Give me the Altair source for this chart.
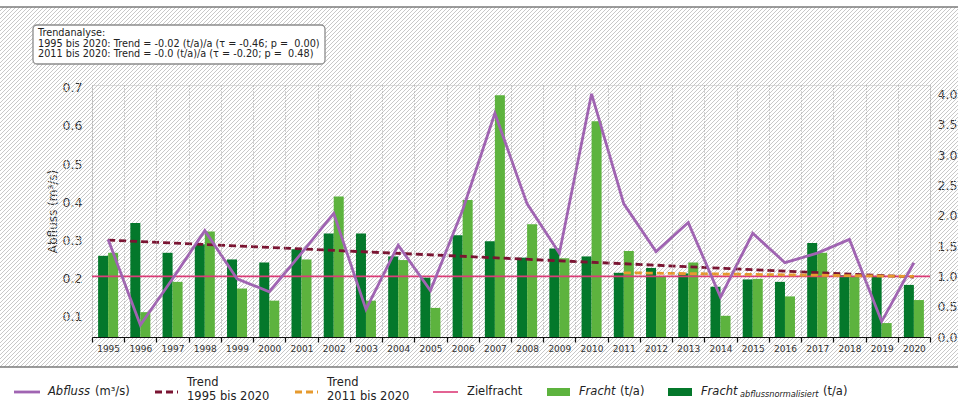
import altair as alt
import pandas as pd

# ---------------- data ----------------
years = list(range(1995, 2021))
fracht = [1.39, 0.41, 0.91, 1.74, 0.80, 0.60, 1.28, 2.32, 0.60, 1.27, 0.48, 2.26, 3.99,
          1.86, 1.30, 3.56, 1.42, 1.00, 1.23, 0.35, 0.96, 0.67, 1.39, 0.995, 0.23, 0.61]
fracht_norm = [1.34, 1.88, 1.39, 1.53, 1.28, 1.23, 1.45, 1.71, 1.71, 1.33, 0.98, 1.68, 1.58,
               1.31, 1.46, 1.33, 1.06, 1.14, 1.05, 0.83, 0.95, 0.91, 1.55, 1.02, 1.00, 0.86]
abfluss = [0.303, 0.079, 0.200, 0.326, 0.200, 0.166, 0.267, 0.371, 0.120, 0.288, 0.169, 0.380, 0.633,
           0.396, 0.267, 0.684, 0.396, 0.271, 0.347, 0.152, 0.319, 0.242, 0.267, 0.303, 0.088, 0.242]
trend1_years = [1995, 2020]
trend1_values = [1.60, 0.99]
trend2_years = [2011, 2020]
trend2_values = [1.06, 1.00]
zielfracht = [1.0]

left_ticks = [0.1, 0.2, 0.3, 0.4, 0.5, 0.6, 0.7]
right_ticks = [0.0, 0.5, 1.0, 1.5, 2.0, 2.5, 3.0, 3.5, 4.0]

annot_lines = [
    "Trendanalyse:",
    "1995 bis 2020: Trend = -0.02 (t/a)/a (\u03c4 = -0.46; p = \u00a00.00)",
    "2011 bis 2020: Trend = -0.0 (t/a)/a (\u03c4 = -0.20; p = \u00a00.48)",
]

# ---------------- style ----------------
C_ABFLUSS = "#a064b2"
C_TREND1 = "#7a1432"
C_TREND2 = "#e69a2e"
C_ZIEL = "#dc3c78"
C_FRACHT = "#5db33e"
C_NORM = "#04782b"
C_HATCH = "#c2c2c2"
FONT = "DejaVu Sans"

W, H = 838, 252        # plot area
L, T = 92, 85          # plot origin in page
TOTAL_W, TOTAL_H = 958, 403
HATCH_TOP, HATCH_BOTTOM = 7, 367

def px(x):
    return alt.value(x - L)

def py(y):
    return alt.value(y - T)

one = pd.DataFrame({"d": [0]})

# ---------------- decorative hatch ("///") of the figure background ----------------
hx1, hy1, hx2, hy2 = [], [], [], []
c = HATCH_TOP
while c < TOTAL_W + HATCH_BOTTOM:
    xa = max(0, c - HATCH_BOTTOM)
    xb = min(TOTAL_W, c - HATCH_TOP)
    if xa < xb:
        hx1.append(xa - L); hy1.append(c - xa - T)
        hx2.append(xb - L); hy2.append(c - xb - T)
    c += 4
hatch_df = pd.DataFrame({"hx1": hx1, "hy1": hy1, "hx2": hx2, "hy2": hy2})
hatch = alt.Chart(hatch_df).mark_rule(color=C_HATCH, strokeWidth=0.9).encode(
    x=alt.X("hx1:Q", scale=None), y=alt.Y("hy1:Q", scale=None),
    x2="hx2:Q", y2="hy2:Q",
)

# ---------------- data frames ----------------
bars_df = pd.DataFrame({
    "Jahr": years * 2,
    "Serie": ["a_norm"] * len(years) + ["b_fracht"] * len(years),
    "Wert": fracht_norm + fracht,
})
line_df = pd.DataFrame({"Jahr": years, "Abfluss": abfluss})
t1_df = pd.DataFrame({"Jahr": trend1_years, "Wert": trend1_values})
t2_df = pd.DataFrame({"Jahr": trend2_years, "Wert": trend2_values})
z_df = pd.DataFrame({"Wert": zielfracht})

x_enc = alt.X(
    "Jahr:O",
    scale=alt.Scale(type="band", paddingInner=0, paddingOuter=0),
    axis=alt.Axis(
        title=None, labelAngle=0, tickBand="extent", grid=True,
        gridDash=[1, 2], gridColor="#9a9a9a", gridWidth=0.9,
        domainColor="#111", domainWidth=1.2, tickColor="#111", tickSize=5, tickWidth=1.2,
        labelFontSize=9, labelColor="#333", labelPadding=2, labelFont=FONT, zindex=1,
    ),
)

y_right = alt.Y(
    "Wert:Q",
    scale=alt.Scale(domain=[0, 4.16], nice=False, zero=False),
    axis=alt.Axis(
        orient="right", values=right_ticks, format=".1f", title=None,
        ticks=False, domain=False, grid=False, labelFontSize=12.5,
        labelColor="#333", labelPadding=7, labelFont=FONT,
    ),
)

y_left = alt.Y(
    "Abfluss:Q",
    scale=alt.Scale(domain=[0.0476, 0.707], nice=False, zero=False),
    axis=alt.Axis(
        orient="left", values=left_ticks, format=".1f", title="Abfluss (m\u00b3/s)",
        ticks=False, domain=False, grid=False, labelFontSize=12.5,
        labelColor="#333", labelPadding=10, labelFont=FONT,
        titleFontSize=12, titleFontWeight="normal", titleColor="#333",
        titleFont=FONT, titleX=52 - L, titleY=H / 2, titleAngle=270,
        titleBaseline="middle", titleAlign="center",
    ),
)

bars = alt.Chart(bars_df).mark_bar().encode(
    x=x_enc,
    xOffset=alt.XOffset("Serie:N", sort=["a_norm", "b_fracht"],
                        scale=alt.Scale(paddingOuter=0.61, paddingInner=0)),
    y=y_right,
    color=alt.Color("Serie:N", scale=alt.Scale(domain=["a_norm", "b_fracht"],
                                               range=[C_NORM, C_FRACHT]), legend=None),
)

ziel = alt.Chart(z_df).mark_rule(color=C_ZIEL, strokeWidth=1.6).encode(y=y_right)

trend1 = alt.Chart(t1_df).mark_line(color=C_TREND1, strokeWidth=2.8, strokeDash=[7, 4]).encode(
    x=x_enc, y=y_right)
trend2 = alt.Chart(t2_df).mark_line(color=C_TREND2, strokeWidth=2.8, strokeDash=[7, 4]).encode(
    x=x_enc, y=y_right)

right_group = alt.layer(bars, ziel, trend1, trend2)

line = alt.Chart(line_df).mark_line(color=C_ABFLUSS, strokeWidth=2.8).encode(x=x_enc, y=y_left)

# ---------------- decorations ----------------
deco = []
deco.append(alt.Chart(one).mark_rule(color="#7a7a7a", strokeWidth=1.5).encode(
    x=px(0), x2=px(TOTAL_W), y=py(HATCH_TOP)))
deco.append(alt.Chart(one).mark_rule(color="#7a7a7a", strokeWidth=1.5).encode(
    x=px(0), x2=px(TOTAL_W), y=py(HATCH_BOTTOM)))

# annotation box
deco.append(alt.Chart(one).mark_rect(fill="white", stroke="#8c8c8c", strokeWidth=1.3,
                                     cornerRadius=4).encode(
    x=px(33), x2=px(325), y=py(25), y2=py(64)))
for i, txt in enumerate(annot_lines):
    deco.append(alt.Chart(one).mark_text(
        text=txt, align="left", baseline="middle", fontSize=9.7, font=FONT, color="#222"
    ).encode(x=px(38), y=py(33 + i * 10.5)))

# legend
LY = 392
LFS = 11.5
def leg_text(txt, x, y, size=LFS, italic=False):
    return alt.Chart(one).mark_text(
        text=txt, align="left", baseline="middle", fontSize=size, font=FONT,
        color="#222", fontStyle="italic" if italic else "normal",
    ).encode(x=px(x), y=py(y))

def leg_line(x1, x2, color, dash=None, width=2.8):
    kw = dict(color=color, strokeWidth=width)
    if dash:
        kw["strokeDash"] = dash
    return alt.Chart(one).mark_rule(**kw).encode(x=px(x1), x2=px(x2), y=py(LY))

deco.append(leg_line(14, 40, C_ABFLUSS))
deco.append(leg_text("Abfluss", 48, LY, italic=True))
deco.append(leg_text("(m\u00b3/s)", 95, LY))

deco.append(leg_line(155, 178, C_TREND1, dash=[7, 4]))
deco.append(leg_text("Trend", 187, 383))
deco.append(leg_text("1995 bis 2020", 187, 396.5))

deco.append(leg_line(295, 318, C_TREND2, dash=[7, 4]))
deco.append(leg_text("Trend", 327, 383))
deco.append(leg_text("2011 bis 2020", 327, 396.5))

deco.append(leg_line(433, 458, C_ZIEL, width=1.6))
deco.append(leg_text("Zielfracht", 467, LY))

deco.append(alt.Chart(one).mark_rect(color=C_FRACHT).encode(
    x=px(547), x2=px(570), y=py(388), y2=py(396)))
deco.append(leg_text("Fracht", 579, LY, italic=True))
deco.append(leg_text("(t/a)", 620, LY))

deco.append(alt.Chart(one).mark_rect(color=C_NORM).encode(
    x=px(668), x2=px(692), y=py(388), y2=py(396)))
deco.append(leg_text("Fracht", 701, LY, italic=True))
deco.append(leg_text("abflussnormalisiert", 740, LY + 3, size=8.2, italic=True))
deco.append(leg_text("(t/a)", 823, LY))

chart = alt.layer(hatch, right_group, line, *deco).resolve_scale(y="independent").properties(
    width=W, height=H,
    padding={"left": L, "top": T, "right": TOTAL_W - L - W, "bottom": TOTAL_H - T - H},
    autosize=alt.AutoSizeParams(type="none"),
    background="white",
).configure_view(stroke=None).configure(font=FONT)

chart.save("out.html", embed_options={"renderer": "svg", "actions": False})
